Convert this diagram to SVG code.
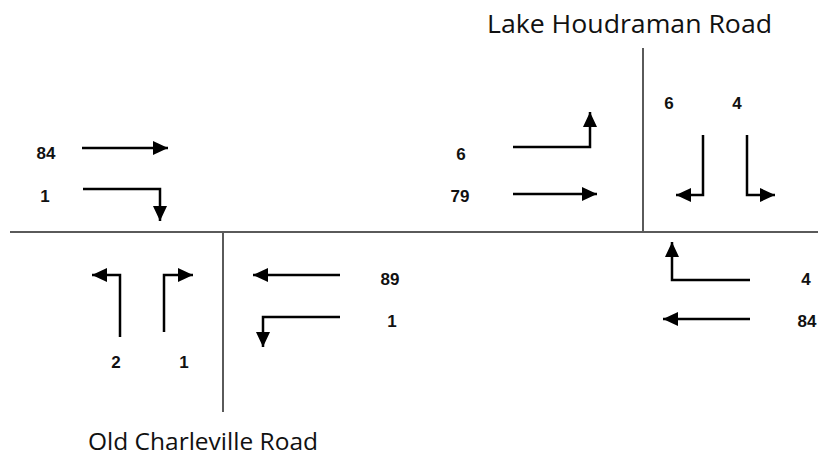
<svg xmlns="http://www.w3.org/2000/svg" width="820" height="459" viewBox="0 0 820 459">
  <style>
    .road { stroke: #5a5a5a; stroke-width: 2; fill: none; }
    .mv { stroke: #000; stroke-width: 2.5; fill: none; stroke-linejoin: miter; marker-end: url(#head); }
    .vol { font-family: "Liberation Sans", Arial, sans-serif; font-size: 17px; font-weight: bold; fill: #111; text-anchor: middle; }
    .name { font-family: "Open Sans", "Liberation Sans", sans-serif; fill: #111; }
  </style>
  <defs>
    <marker id="head" markerUnits="userSpaceOnUse" markerWidth="16" markerHeight="14" refX="15" refY="7" orient="auto">
      <path d="M0,0 L15,7 L0,14 Z" fill="#000"/>
    </marker>
  </defs>

  <rect width="820" height="459" fill="#fff"/>

  <!-- road centrelines -->
  <g id="roads">
    <line class="road" x1="10" y1="232" x2="818" y2="232"/>
    <line class="road" x1="643" y1="48" x2="643" y2="232"/>
    <line class="road" x1="223" y1="232" x2="223" y2="412"/>
  </g>

  <!-- road names -->
  <g id="label-lake-houdraman">
    <text class="name" x="487" y="33" font-size="26" textLength="285" lengthAdjust="spacingAndGlyphs">Lake Houdraman Road</text>
  </g>
  <g id="label-old-charleville">
    <text class="name" x="88" y="450" font-size="24" textLength="230" lengthAdjust="spacingAndGlyphs">Old Charleville Road</text>
  </g>

  <!-- turning movement arrows -->
  <g id="connectors">
    <path class="mv" d="M82,148 H168"/>
    <path class="mv" d="M83,189 H160 V221"/>
    <path class="mv" d="M513,147 H590 V112"/>
    <path class="mv" d="M513,194 H597"/>
    <path class="mv" d="M703,135 V195 H676"/>
    <path class="mv" d="M747,135 V195 H775"/>
    <path class="mv" d="M120,337 V275 H92"/>
    <path class="mv" d="M164,332 V275 H193"/>
    <path class="mv" d="M340,275 H253"/>
    <path class="mv" d="M340,317 H263 V347"/>
    <path class="mv" d="M750,280 H672 V242"/>
    <path class="mv" d="M750,319 H663"/>
  </g>

  <!-- volumes -->
  <g id="vol-west-through"><text class="vol" x="46" y="159">84</text></g>
  <g id="vol-west-right"><text class="vol" x="45" y="202">1</text></g>
  <g id="vol-east-app-left"><text class="vol" x="461" y="160">6</text></g>
  <g id="vol-east-app-through"><text class="vol" x="460" y="202">79</text></g>
  <g id="vol-north-right"><text class="vol" x="669" y="109">6</text></g>
  <g id="vol-north-left"><text class="vol" x="737" y="109">4</text></g>
  <g id="vol-south-left"><text class="vol" x="116" y="368">2</text></g>
  <g id="vol-south-right"><text class="vol" x="184" y="368">1</text></g>
  <g id="vol-mid-through"><text class="vol" x="390" y="285">89</text></g>
  <g id="vol-mid-left"><text class="vol" x="392" y="327">1</text></g>
  <g id="vol-east-right"><text class="vol" x="806" y="285">4</text></g>
  <g id="vol-east-through"><text class="vol" x="807" y="327">84</text></g>
</svg>
